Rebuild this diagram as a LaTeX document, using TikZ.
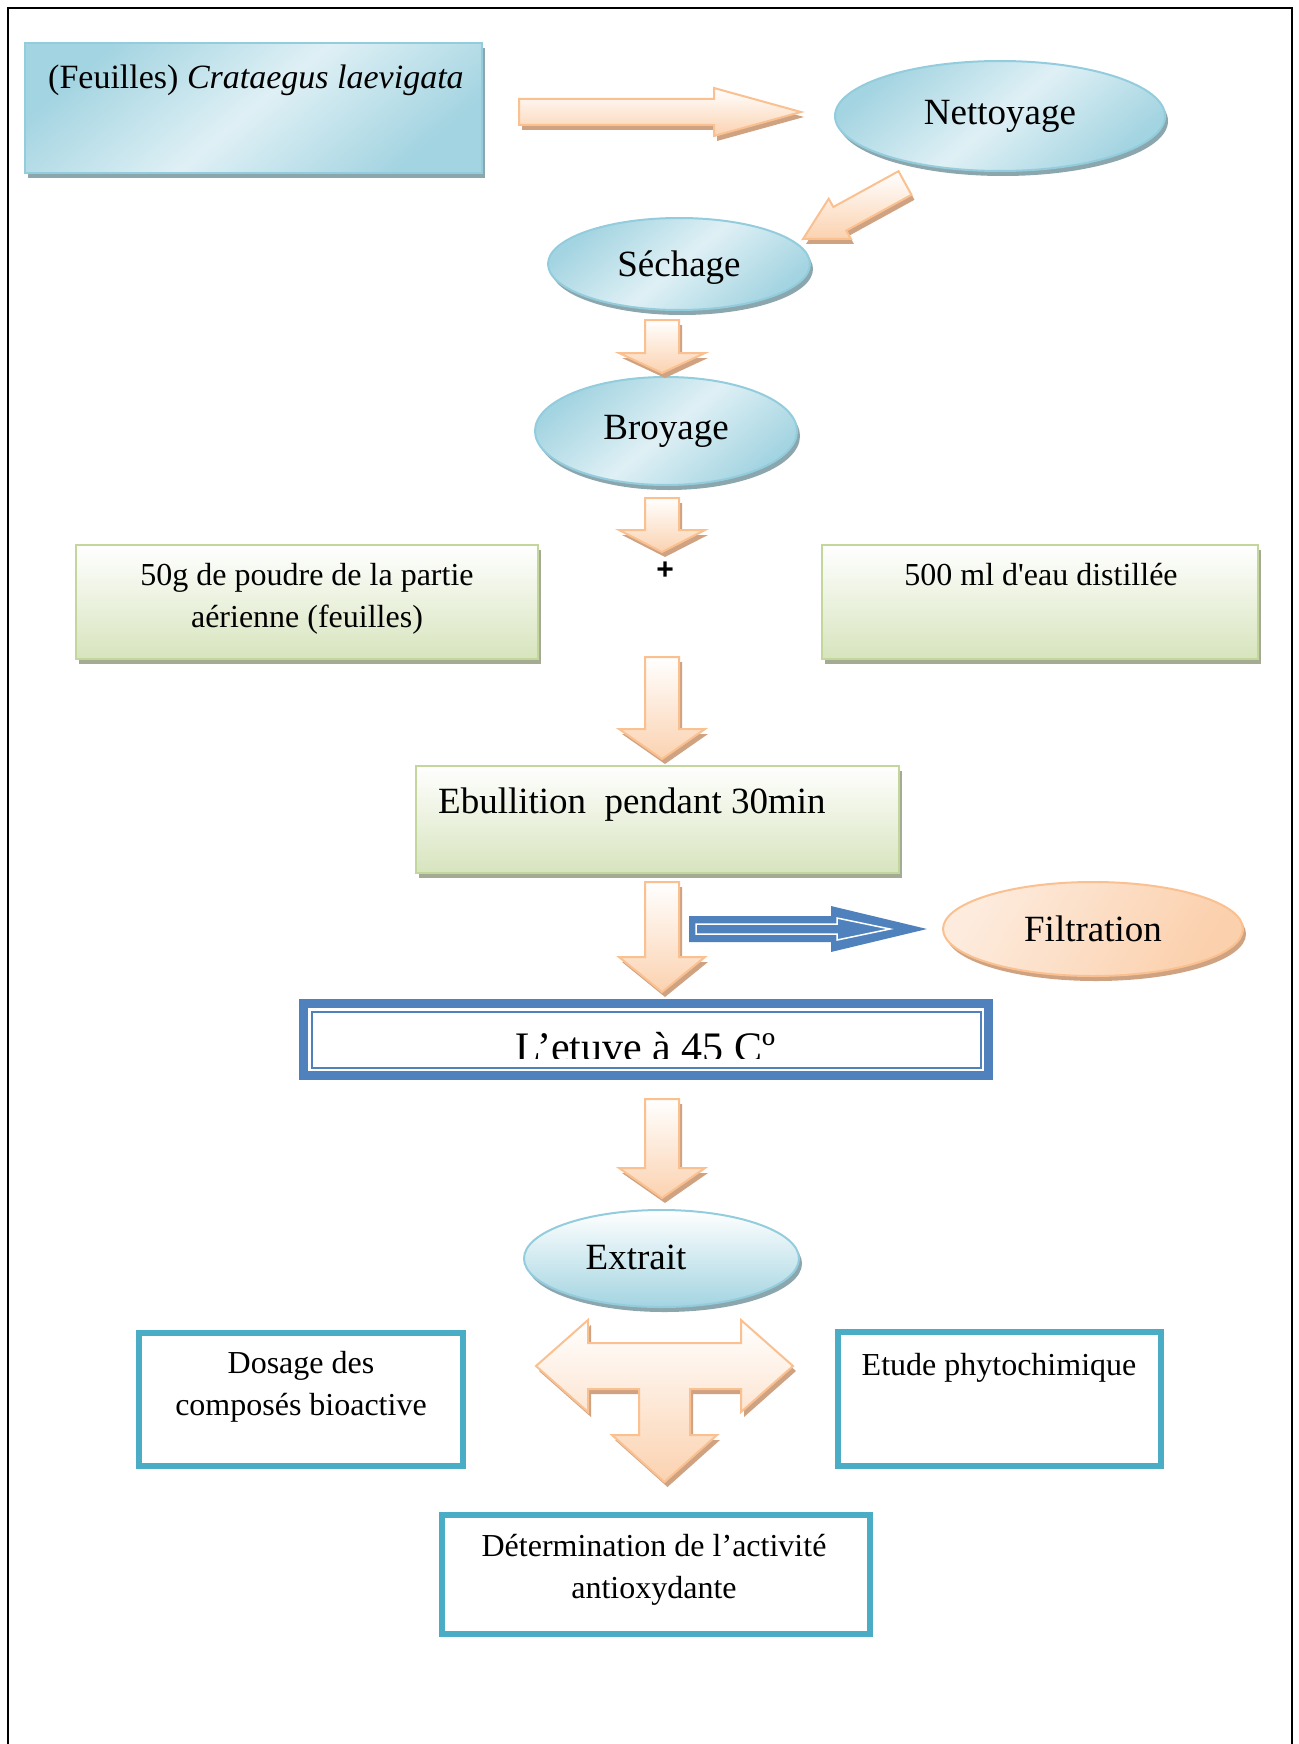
\documentclass[tikz,border=0pt]{standalone}
\usepackage{fontspec}
\setmainfont{Liberation Serif}[Ligatures=TeXOff]
\newfontfamily\plusfont{Liberation Sans}
\usetikzlibrary{shapes.geometric,shadows}

\definecolor{bleuBord}{HTML}{93CDDD}
\definecolor{bleuFonce}{HTML}{A3D4E1}
\definecolor{bleuClair}{HTML}{DFF0F5}
\definecolor{bleuOmbre}{HTML}{8CA6AE}
\definecolor{vertBord}{HTML}{C3D69B}
\definecolor{vertFond}{HTML}{D7E4BD}
\definecolor{vertOmbre}{HTML}{A3AC93}
\definecolor{pecheBord}{HTML}{FAC090}
\definecolor{pecheFond}{HTML}{FBD2B0}
\definecolor{pecheClair}{HTML}{FDEBDD}
\definecolor{pecheOmbre}{HTML}{CFA282}
\definecolor{bleuFleche}{HTML}{4F81BD}
\definecolor{turquoise}{HTML}{4BACC6}

\def\grand{\fontsize{37pt}{44pt}\selectfont}
\def\moyen{\fontsize{32pt}{42pt}\selectfont}

\begin{document}
\begin{tikzpicture}[
    x=1pt, y=-1pt,
    every node/.style={font=\grand, inner sep=0pt},
    ombreB/.style={general shadow={fill=bleuOmbre, shadow xshift=3pt, shadow yshift=-5pt}},
    bleu/.style={ombreB, draw=bleuBord, line width=2pt,
        left color=bleuFonce, right color=bleuFonce, middle color=bleuClair, shading angle=40},
    etape/.style={bleu, ellipse},
    vert/.style={general shadow={fill=vertOmbre, shadow xshift=3pt, shadow yshift=-5pt},
        draw=vertBord, line width=2pt, top color=white, bottom color=vertFond, rectangle},
    fleche/.style={general shadow={fill=pecheOmbre, shadow xshift=3pt, shadow yshift=-5pt},
        draw=pecheBord, line width=2pt, top color=white, bottom color=pecheFond},
    cadre/.style={draw=turquoise, line width=6pt, rectangle},
    texte/.style={font=\moyen, align=center, anchor=base},
]
    \useasboundingbox (0,0) rectangle (1298,1744);
    \draw[line width=2pt] (8,1744) -- (8,8) -- (1292,8) -- (1292,1744);

    \node[bleu, rectangle, minimum width=457pt, minimum height=130pt] (feuilles) at (253.5,108) {};
    \node[anchor=base west, font=\fontsize{34pt}{40pt}\selectfont] (feuilles-t) at (48,89)
        {(Feuilles) \textit{Crataegus laevigata}};
    \path[fleche] (519,99) -- (714,99) -- (714,88) -- (801,112) -- (714,136) -- (714,125) -- (519,125) -- cycle;
    \node[etape, minimum width=330pt, minimum height=110pt] (nettoyage) at (1000,116) {Nettoyage};
    \path[fleche] (898.5,171.2) -- (833.3,207) -- (828.7,198.7) -- (803,239) -- (850.9,238.9)
        -- (846.3,230.6) -- (911.5,194.8) -- cycle;
    \node[etape, text depth=0pt, minimum width=262pt, minimum height=92pt] (sechage) at (679,264) {Séchage};
    \node[etape, minimum width=262pt, minimum height=108pt] (broyage) at (666,431) {Broyage};

    \foreach \haut/\base/\pointe in {320/353/373, 498/530/552, 657/729/759, 882/957/992, 1099/1168/1198}
        \path[fleche] (645,\haut) -- (679,\haut) -- (679,\base) -- (705,\base) -- (662,\pointe)
            -- (619,\base) -- (645,\base) -- cycle;

    \node[font=\plusfont\bfseries\fontsize{30pt}{34pt}\selectfont] (plus) at (665,571) {+};
    \node[vert, minimum width=462pt, minimum height=114pt] (poudre) at (307,602) {};
    \node[texte] (poudre-t) at (307,627) {50g de poudre de la partie\\aérienne (feuilles)};
    \node[vert, minimum width=436pt, minimum height=114pt] (eau) at (1040,602) {};
    \node[texte] (eau-t) at (1041,585) {500 ml d'eau distillée};

    \node[vert, minimum width=483pt, minimum height=107pt] (ebullition) at (657.5,819.5) {};
    \node[anchor=base west] (ebullition-t) at (438,813) {Ebullition\ \ pendant 30min};

    \path[fill=bleuFleche] (689,916) -- (831,916) -- (831,906) -- (927,929) -- (831,952) -- (831,942)
        -- (689,942) -- cycle;
    \draw[white, line width=1.5pt] (696,924) -- (837,924) -- (837,918) -- (890,929) -- (837,940)
        -- (837,934) -- (696,934) -- cycle;
    \node[ellipse, draw=pecheBord, line width=2pt,
        general shadow={fill=pecheOmbre, shadow xshift=3pt, shadow yshift=-5pt},
        left color=pecheClair, right color=pecheBord!75!white, shading angle=60,
        minimum width=300pt, minimum height=94pt] (filtration) at (1093,929) {Filtration};

    \node[draw=bleuFleche, line width=9pt, minimum width=685pt, minimum height=72pt] (etuve) at (646,1039.5) {};
    \draw[bleuFleche, line width=2pt] (311.5,1011.5) rectangle (980.5,1067.5);
    \begin{scope}
        \clip (299,1012) rectangle (993,1058);
        \node[anchor=base west, font=\fontsize{42pt}{48pt}\selectfont] (etuve-t) at (515,1061) {L’etuve à 45 Cº};
    \end{scope}

    \node[ellipse, draw=bleuBord, line width=2pt, ombreB, top color=white, bottom color=bleuFonce,
        minimum width=275pt, minimum height=97pt] (extrait) at (661.5,1258.5) {};
    \node[anchor=base] (extrait-t) at (636,1269) {Extrait};

    \path[fleche] (536,1366) -- (588,1320) -- (588,1343) -- (741,1343) -- (741,1320) -- (793,1366)
        -- (741,1412) -- (741,1389) -- (690,1389) -- (690,1435) -- (717,1435) -- (664.5,1482)
        -- (612,1435) -- (639,1435) -- (639,1389) -- (588,1389) -- (588,1412) -- cycle;

    \node[cadre, minimum width=324pt, minimum height=133pt] (dosage) at (301,1399.5) {};
    \node[texte] (dosage-t) at (301,1415) {Dosage des\\composés bioactive};
    \node[cadre, minimum width=323pt, minimum height=134pt] (etude) at (999.5,1399) {};
    \node[texte] (etude-t) at (999,1375) {Etude phytochimique};
    \node[cadre, minimum width=428pt, minimum height=119pt] (activite) at (656,1574.5) {};
    \node[texte] (activite-t) at (654,1598) {Détermination de l’activité\\antioxydante};
\end{tikzpicture}
\end{document}
